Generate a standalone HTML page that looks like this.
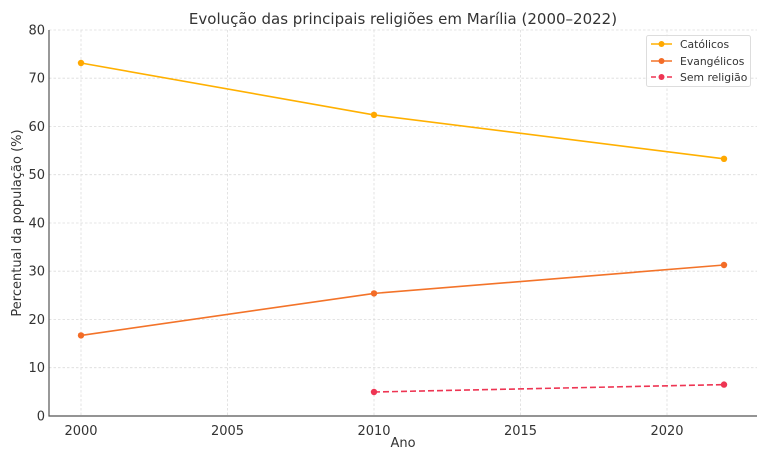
<!DOCTYPE html>
<html><head><meta charset="utf-8"><style>
body{margin:0;background:#fff}
svg{display:block;font-family:"DejaVu Sans","Liberation Sans",sans-serif}
</style></head><body>
<svg width="768" height="461" viewBox="0 0 768 461" xmlns="http://www.w3.org/2000/svg">
<rect width="768" height="461" fill="#fff"/>
<g stroke="#dcdcdc" stroke-width="0.8" stroke-dasharray="2.5,2">
<line x1="81" y1="30" x2="81" y2="416"/>
<line x1="227.5" y1="30" x2="227.5" y2="416"/>
<line x1="374" y1="30" x2="374" y2="416"/>
<line x1="520.5" y1="30" x2="520.5" y2="416"/>
<line x1="667" y1="30" x2="667" y2="416"/>
<line x1="49" y1="367.7" x2="757" y2="367.7"/>
<line x1="49" y1="319.5" x2="757" y2="319.5"/>
<line x1="49" y1="271.2" x2="757" y2="271.2"/>
<line x1="49" y1="223" x2="757" y2="223"/>
<line x1="49" y1="174.7" x2="757" y2="174.7"/>
<line x1="49" y1="126.5" x2="757" y2="126.5"/>
<line x1="49" y1="78.2" x2="757" y2="78.2"/>
<line x1="49" y1="30" x2="757" y2="30"/>
</g>
<g stroke="#555" stroke-width="1.2">
<line x1="49" y1="30" x2="49" y2="416.5"/>
<line x1="48.5" y1="416" x2="757" y2="416"/>
</g>
<g fill="#333" font-size="13" text-anchor="end">
<text x="45" y="420.5">0</text><text x="45" y="372.2">10</text><text x="45" y="324">20</text>
<text x="45" y="275.7">30</text><text x="45" y="227.5">40</text><text x="45" y="179.2">50</text>
<text x="45" y="131">60</text><text x="45" y="82.7">70</text><text x="45" y="34.5">80</text>
</g>
<g fill="#333" font-size="13" text-anchor="middle">
<text x="81" y="435">2000</text><text x="227.5" y="435">2005</text><text x="374" y="435">2010</text>
<text x="520.5" y="435">2015</text><text x="667" y="435">2020</text>
<text x="403" y="447">Ano</text>
<text x="403" y="24" font-size="15">Evolução das principais religiões em Marília (2000–2022)</text>
<text transform="translate(21,223) rotate(-90)">Percentual da população (%)</text>
</g>
<g fill="none" stroke-width="1.6">
<polyline points="81,63 374,114.9 724,158.8" stroke="#ffb000"/>
<polyline points="81,335.4 374,293.4 724,265" stroke="#f37329"/>
<polyline points="374,392 724,384.6" stroke="#ee3553" stroke-dasharray="6,3"/>
</g>
<g fill="#ffa800"><circle cx="81" cy="63" r="3.2"/><circle cx="374" cy="114.9" r="3.2"/><circle cx="724" cy="158.8" r="3.2"/></g>
<g fill="#f36c27"><circle cx="81" cy="335.4" r="3.2"/><circle cx="374" cy="293.4" r="3.2"/><circle cx="724" cy="265" r="3.2"/></g>
<g fill="#ee3553"><circle cx="374" cy="392" r="3.2"/><circle cx="724" cy="384.6" r="3.2"/></g>
<rect x="646.5" y="35.5" width="104" height="51" rx="2" fill="#fff" fill-opacity="0.85" stroke="#ddd"/>
<g stroke-width="1.6">
<line x1="651" y1="44" x2="672" y2="44" stroke="#ffb000"/><circle cx="661.5" cy="44" r="3" fill="#ffa800"/>
<line x1="651" y1="61" x2="672" y2="61" stroke="#f37329"/><circle cx="661.5" cy="61" r="3" fill="#f36c27"/>
<line x1="651" y1="77" x2="672" y2="77" stroke="#ee3553" stroke-dasharray="5,3"/><circle cx="661.5" cy="77" r="3" fill="#ee3553"/>
</g>
<g fill="#333" font-size="10.8">
<text x="680" y="48">Católicos</text>
<text x="680" y="65">Evangélicos</text>
<text x="680" y="81">Sem religião</text>
</g>
</svg>
</body></html>
